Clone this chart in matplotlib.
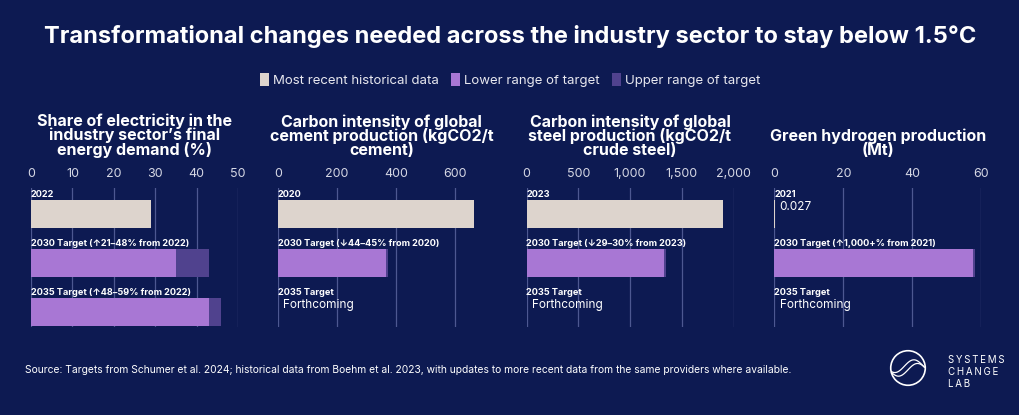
import numpy as np
import matplotlib.pyplot as plt
from matplotlib.patches import Patch, Circle
from matplotlib.ticker import FuncFormatter

# Données
panel_titles = [
    "Share of electricity in the\nindustry sector\u2019s final\nenergy demand (%)",
    "Carbon intensity of global\ncement production (kgCO2/t\ncement)",
    "Carbon intensity of global\nsteel production (kgCO2/t\ncrude steel)",
    "Green hydrogen production\n(Mt)",
]
hist_labels = ["2022", "2020", "2023", "2021"]
hist_values = [29, 662, 1897, 0.027]
target_2030_labels = [
    "2030 Target (\u219121\u201348% from 2022)",
    "2030 Target (\u219344\u201345% from 2020)",
    "2030 Target (\u219329\u201330% from 2023)",
    "2030 Target (\u21911,000+% from 2021)",
]
lower_2030 = [35, 364, 1330, 57.5]
upper_2030 = [43, 371, 1349, 58]
target_2035_labels = ["2035 Target (\u219148\u201359% from 2022)", "2035 Target", "2035 Target", "2035 Target"]
lower_2035 = [43, None, None, None]
upper_2035 = [46, None, None, None]
x_max = [50, 700, 2000, 60]
x_ticks = [[0, 10, 20, 30, 40, 50], [0, 200, 400, 600], [0, 500, 1000, 1500, 2000], [0, 20, 40, 60]]

BG = "#0d1a52"
C_HIST = "#ddd4cd"
C_LOW = "#a877d4"
C_UP = "#50428e"
GRID = "#4d5891"
TXT = "white"
FONT = ["Inter", "DejaVu Sans"]

plt.rcParams["font.family"] = FONT

W, H = 1020, 415
fig = plt.figure(figsize=(W / 100, H / 100), dpi=100, facecolor=BG)

fig.text(0.5, 1 - 37 / H, "Transformational changes needed across the industry sector to stay below 1.5\u00b0C",
         ha="center", va="center", color=TXT, fontsize=17, fontweight="bold")

handles = [Patch(facecolor=C_HIST, edgecolor="none"), Patch(facecolor=C_LOW, edgecolor="none"),
           Patch(facecolor=C_UP, edgecolor="none")]
leg = fig.legend(handles, ["Most recent historical data", "Lower range of target", "Upper range of target"],
                 loc="center", bbox_to_anchor=(0.5, 1 - 80 / H), ncol=3, frameon=False,
                 fontsize=9.5, handlelength=0.7, handleheight=1.2, handletextpad=0.3, columnspacing=0.9)
for t in leg.get_texts():
    t.set_color("#e8e8ef")

lefts = [31, 278, 526.5, 774.5]
ax_w, ax_top, ax_bot = 207, 188, 327

for i in range(4):
    ax = fig.add_axes([lefts[i] / W, 1 - ax_bot / H, ax_w / W, (ax_bot - ax_top) / H])
    ax.set_facecolor(BG)
    ax.set_xlim(0, x_max[i])
    ax.set_ylim(2.31, -0.53)
    ax.set_xticks(x_ticks[i])
    ax.xaxis.set_major_formatter(FuncFormatter(lambda v, p: f"{v:,.0f}"))
    ax.xaxis.tick_top()
    ax.tick_params(axis="x", length=0, pad=6, labelsize=9, labelcolor="#d5d7e4")
    ax.set_yticks([])
    ax.grid(axis="x", color=GRID, lw=0.9)
    ax.set_axisbelow(True)
    for s in ax.spines.values():
        s.set_visible(False)

    bh = 0.57
    ax.barh(0, hist_values[i], height=bh, color=C_HIST, lw=0)
    ax.barh(1, upper_2030[i], height=bh, color=C_UP)
    ax.barh(1, lower_2030[i], height=bh, color=C_LOW)
    if upper_2035[i] is not None:
        ax.barh(2, upper_2035[i], height=bh, color=C_UP)
        ax.barh(2, lower_2035[i], height=bh, color=C_LOW)
    else:
        ax.text(x_max[i] * 0.025, 1.86, "Forthcoming", color=TXT, fontsize=8.5, va="center", ha="left")

    if hist_values[i] < x_max[i] * 0.01:
        ax.text(x_max[i] * 0.025, -0.14, f"{hist_values[i]}", color=TXT, fontsize=8.5, va="center", ha="left")

    for row, lab in enumerate([hist_labels[i], target_2030_labels[i], target_2035_labels[i]]):
        ax.text(0, row - 0.39, lab, color=TXT, fontsize=6.6, fontweight="bold", va="center", ha="left")

    fig.text((lefts[i] + ax_w / 2) / W, 1 - 158 / H, panel_titles[i], ha="center", va="bottom",
             color=TXT, fontsize=11.5, fontweight="bold", linespacing=0.9)

fig.text(25 / W, 1 - 370 / H,
         "Source: Targets from Schumer et al. 2024; historical data from Boehm et al. 2023, with updates to more recent data from the same providers where available.",
         ha="left", va="center", color=TXT, fontsize=7.4)

# logo
lax = fig.add_axes([888 / W, 1 - 388 / H, 40 / W, 40 / H])
lax.set_xlim(-1.1, 1.1)
lax.set_ylim(-1.1, 1.1)
lax.set_aspect("equal")
lax.axis("off")
lax.add_patch(Circle((0, 0), 0.95, fill=False, ec="white", lw=1.2))
tt = np.linspace(-0.9, 0.9, 50)
lax.plot(tt, 0.35 * np.sin(tt * 3) - 0.1, color="white", lw=0.9)
lax.plot(tt, 0.35 * np.sin(tt * 3 + 0.6) + 0.1, color="white", lw=0.9)
logo = "\n".join("\u2009".join(w) for w in ["SYSTEMS", "CHANGE", "LAB"])
fig.text(948 / W, 1 - 372 / H, logo, ha="left", va="center",
         color=TXT, fontsize=7, linespacing=1.3)

fig.savefig("out.png", dpi=100, facecolor=BG)
